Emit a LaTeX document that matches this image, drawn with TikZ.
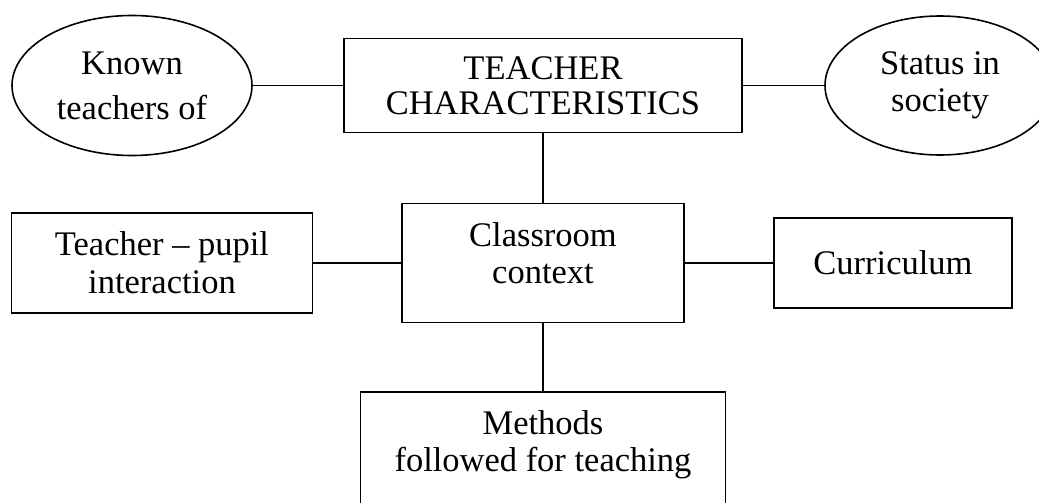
\documentclass[tikz,border=0pt]{standalone}
\usepackage{fontspec}
\setmainfont{Liberation Serif}
\usetikzlibrary{shapes.geometric}
\begin{document}
\begin{tikzpicture}
[x=1pt,y=-1pt,line width=1.6pt,
every node/.style={draw,align=center,inner sep=0pt,font=\fontsize{34.5}{37}\selectfont},
oval/.style={ellipse,minimum width=240pt,minimum height=140pt},
box/.style={rectangle}]
\useasboundingbox (0,0) rectangle (1039,503);
\node[oval] (known) at (132,85.5) {Known\\[8pt]teachers of};
\node[box,minimum width=398pt,minimum height=94pt] (teacher) at (543,85.5) {TEACHER\\[-2pt]CHARACTERISTICS};
\node[oval,minimum width=230pt,minimum height=139pt] (status) at (940,85.5) {Status in\\society};
\node[box,minimum width=301pt,minimum height=100pt] (pupil) at (162,263) {Teacher – pupil\\[1pt]interaction};
\node[box,minimum width=282pt,minimum height=119pt,text depth=20pt] (classroom) at (543,263) {Classroom\\context};
\node[box,minimum width=238pt,minimum height=90pt] (curriculum) at (893,263) {Curriculum};
\node[box,minimum width=365pt,minimum height=130pt,text depth=31pt] (methods) at (543,457) {Methods\\followed for teaching};
\foreach \from/\to in {known/teacher,teacher/status,teacher/classroom,pupil/classroom,classroom/curriculum,classroom/methods}
\draw (\from) -- (\to);
\end{tikzpicture}
\end{document}
